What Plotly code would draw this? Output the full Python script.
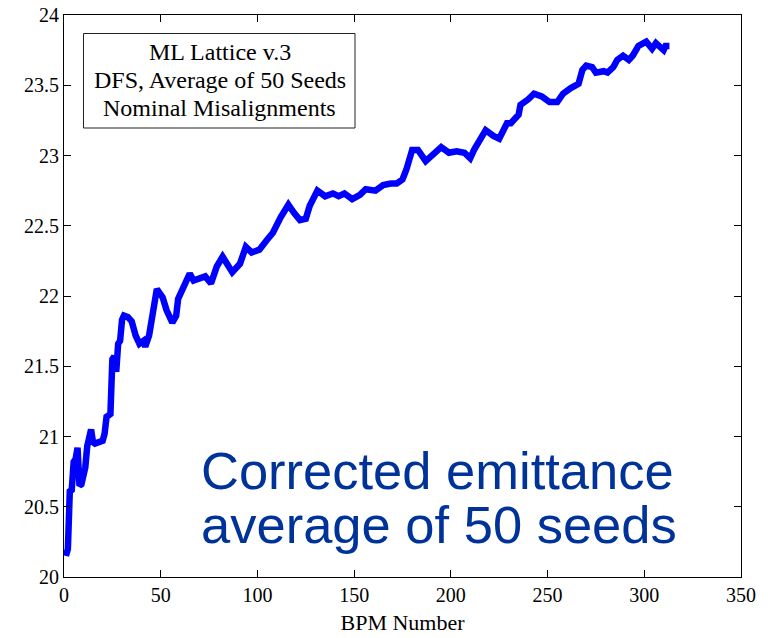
import plotly.graph_objects as go

# BPM numbers and averaged corrected emittance
bpm = [1, 2, 3, 4, 5, 6, 7, 8, 9, 10, 11, 12, 13, 14, 15, 16, 18, 20, 21, 22,
       24, 25, 26, 27, 28, 29, 30, 31, 33, 35, 37, 39, 41, 42, 44, 46, 48, 51,
       53, 56, 58, 59, 61, 64, 65, 67, 70, 73, 76, 79, 82, 85, 87, 91, 94, 97,
       101, 105, 108, 112, 116, 119, 122, 125, 127, 131, 135, 139, 142, 145,
       149, 153, 156, 161, 165, 169, 172, 175, 177, 180, 183, 187, 190, 195,
       199, 203, 207, 210, 212, 215, 218, 222, 225, 229, 231, 235, 236, 240,
       243, 247, 251, 255, 258, 262, 266, 268, 270, 273, 275, 279, 281, 284,
       286, 289, 292, 294, 297, 301, 304, 306, 310, 311, 313]
emittance = [20.15, 20.20, 20.61, 20.62, 20.82, 20.84, 20.92, 20.65, 20.66, 20.72,
             20.78, 20.93, 20.98, 21.05, 20.96, 20.95, 20.96, 20.97, 21.02, 21.14,
             21.16, 21.55, 21.57, 21.46, 21.66, 21.68, 21.83, 21.86, 21.85, 21.82,
             21.72, 21.66, 21.68, 21.64, 21.72, 21.88, 22.05, 21.99, 21.90, 21.81,
             21.86, 21.98, 22.04, 22.13, 22.16, 22.11, 22.12, 22.14, 22.09, 22.21,
             22.28, 22.22, 22.17, 22.23, 22.35, 22.31, 22.33, 22.40, 22.45, 22.56,
             22.65, 22.59, 22.54, 22.55, 22.64, 22.75, 22.71, 22.73, 22.71, 22.73,
             22.69, 22.72, 22.76, 22.75, 22.79, 22.80, 22.80, 22.83, 22.90, 23.04,
             23.04, 22.96, 23.00, 23.06, 23.02, 23.03, 23.02, 22.98, 23.04, 23.12,
             23.18, 23.14, 23.12, 23.23, 23.23, 23.29, 23.36, 23.40, 23.44, 23.42,
             23.38, 23.38, 23.44, 23.48, 23.51, 23.61, 23.64, 23.63, 23.59, 23.60,
             23.59, 23.63, 23.68, 23.71, 23.68, 23.71, 23.78, 23.81, 23.76, 23.80,
             23.75, 23.78, 23.78]

x_ticks = [0, 50, 100, 150, 200, 250, 300, 350]
y_ticks = [20, 20.5, 21, 21.5, 22, 22.5, 23, 23.5, 24]
box_lines = ["ML Lattice v.3", "DFS, Average of 50 Seeds", "Nominal Misalignments"]
big_lines = ["Corrected emittance", "average of 50 seeds"]

SERIF = "Liberation Serif, Times New Roman, serif"
SANS = "Liberation Sans, Arial, sans-serif"

fig = go.Figure()
fig.add_trace(go.Scatter(x=bpm, y=emittance, mode="lines",
                         line=dict(color="#0000FF", width=6.5),
                         showlegend=False, hoverinfo="skip"))

axis_common = dict(showline=True, linecolor="black", linewidth=1, mirror="ticks",
                   ticks="inside", ticklen=7, tickcolor="black", tickwidth=1,
                   showgrid=False, zeroline=False, automargin=False,
                   tickfont=dict(family=SERIF, size=20, color="black"))

fig.update_xaxes(range=[0, 350], tickvals=x_ticks,
                 ticktext=[str(v) for v in x_ticks],
                 title=dict(text="BPM Number", font=dict(family=SERIF, size=22, color="black"),
                            standoff=9),
                 **axis_common)
fig.update_yaxes(range=[20, 24], tickvals=y_ticks,
                 ticktext=[("%g" % v) for v in y_ticks], **axis_common)

# plot area in pixels: left 64, right 741, top 15, bottom 577
pw, ph = 677.0, 562.0
def px(xp):
    return (xp - 64) / pw
def py(yp):
    return (577 - yp) / ph

shapes = [dict(type="rect", xref="paper", yref="paper",
               x0=px(83.5), x1=px(355), y0=py(128), y1=py(33.5),
               line=dict(color="#222222", width=1), fillcolor="white", layer="above")]
fig.update_layout(shapes=shapes)

annotations = []
for i, t in enumerate(box_lines):
    annotations.append(dict(text=t, xref="paper", yref="paper",
                            x=px(219.5), y=py(52.5 + 27.5 * i),
                            xanchor="center", yanchor="middle", showarrow=False,
                            font=dict(family=SERIF, size=24, color="black")))
for i, t in enumerate(big_lines):
    annotations.append(dict(text=t, xref="paper", yref="paper",
                            x=px(199), y=py(470 + 54 * i),
                            xanchor="left", yanchor="middle", showarrow=False,
                            font=dict(family=SANS, size=52.5, color="#003399")))
fig.update_layout(annotations=annotations)

fig.update_layout(width=772, height=638,
                  margin=dict(l=64, r=31, t=15, b=61),
                  paper_bgcolor="white", plot_bgcolor="white")

fig.write_html("out.html")
